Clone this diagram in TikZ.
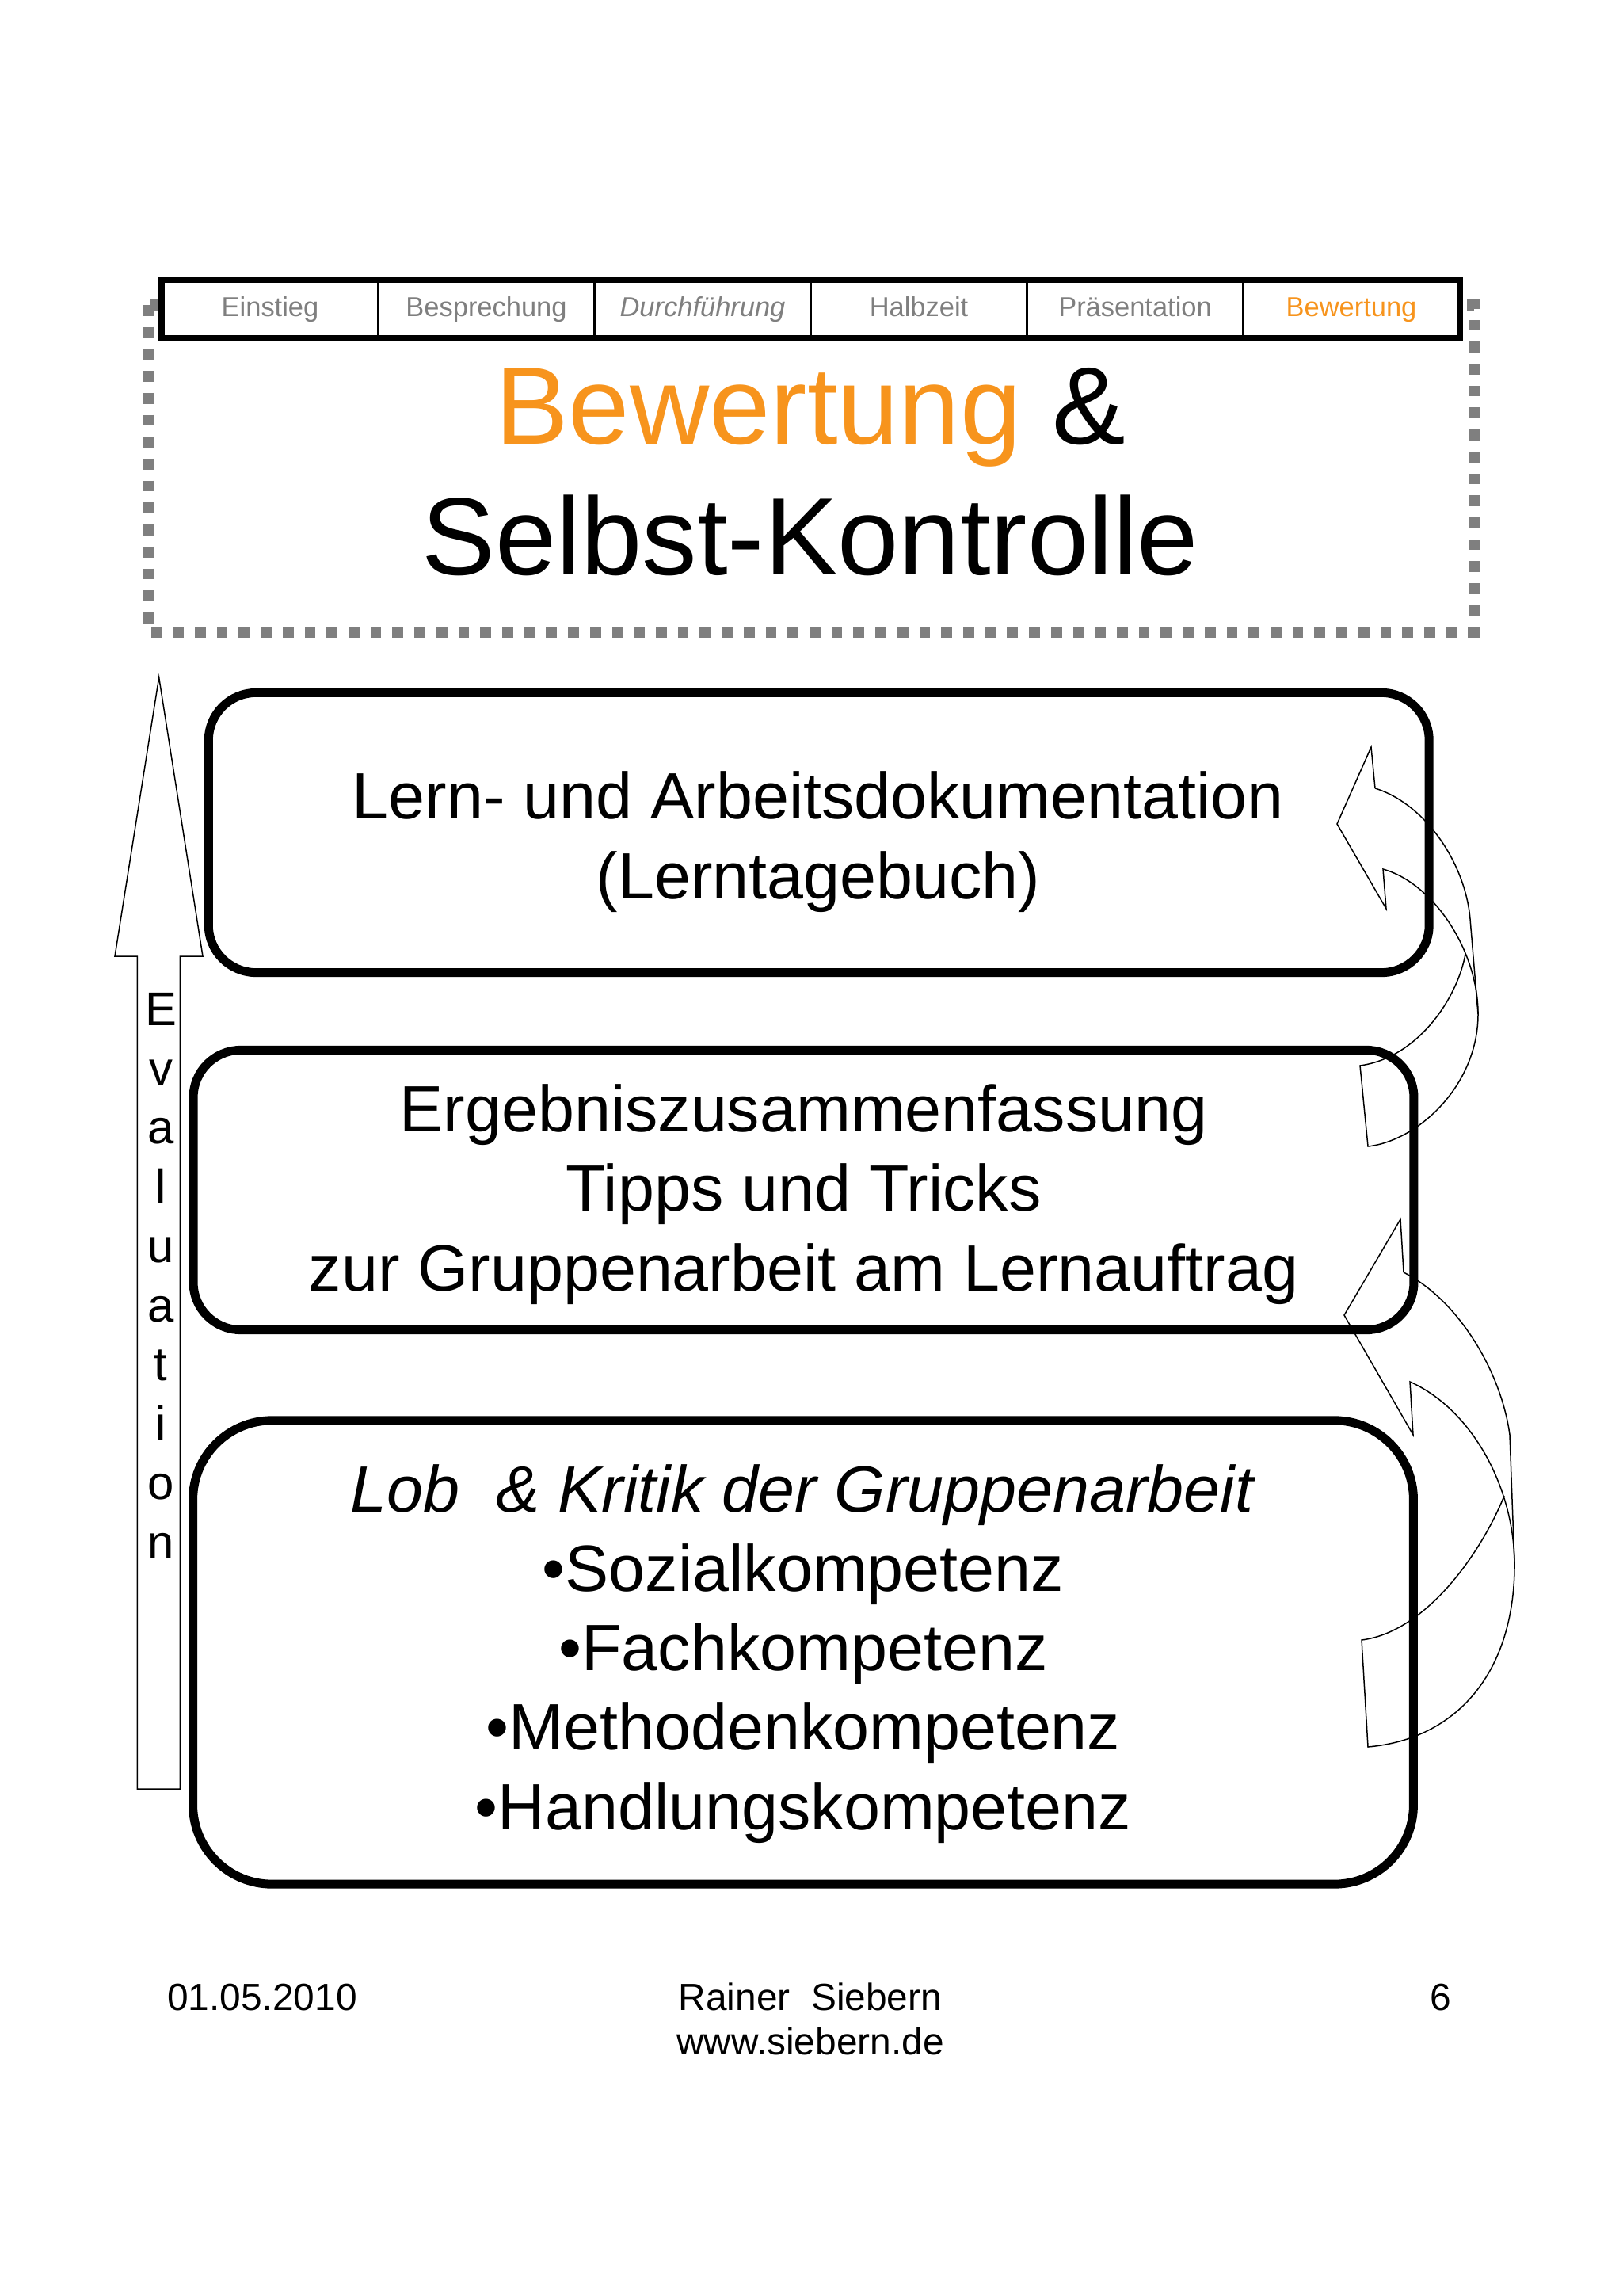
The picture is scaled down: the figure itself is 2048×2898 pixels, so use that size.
\documentclass[tikz,border=0pt]{standalone}
\usepackage{fontspec}
\setmainfont{Liberation Sans}
\usepackage{xcolor}
\usepackage{tikz}
\usetikzlibrary{positioning,calc}

\definecolor{tabgray}{HTML}{7F7F7F}
\definecolor{titleorange}{HTML}{F7941D}

\begin{document}
\begin{tikzpicture}[x=0.01cm, y=-0.01cm, thick]
  \tikzstyle{tab} = [rectangle, draw, line width=0.03cm, fill=white, outer sep=0pt, minimum width=2.73cm, minimum height=0.74cm, text height=7.2pt, text depth=2pt, text=tabgray, font=\fontsize{9.8}{12}\selectfont]
  \tikzstyle{stage} = [rectangle, draw, rounded corners=0.6cm, line width=0.11cm, minimum width=15.4cm, minimum height=3.53cm]
  \tikzstyle{stagetext} = [anchor=base, align=center, font=\fontsize{23.5}{28.5}\selectfont]
  \tikzstyle{blockarrow} = [draw, line width=0.015cm, line join=miter]
  \tikzstyle{footer} = [anchor=base, font=\fontsize{13.6}{15.9}\selectfont]

  \useasboundingbox[fill=white] (0,0) rectangle (2048,2898);

  % title frame
  \draw[tabgray, line width=0.137cm, dash pattern=on 0.137cm off 0.14cm] (187.5,385) rectangle (1861,797.7);

  \node[tab] (tab_einstieg) at (341,390) {Einstieg};
  \node[tab] (tab_besprechung) at (614,390) {Besprechung};
  \node[tab, font=\fontsize{9.8}{12}\selectfont\itshape] (tab_durchfuehrung) at (887,390) {Durchführung};
  \node[tab] (tab_halbzeit) at (1160,390) {Halbzeit};
  \node[tab] (tab_praesentation) at (1433,390) {Präsentation};
  \node[tab, text=titleorange] (tab_bewertung) at (1706,390) {Bewertung};
  \draw[line width=0.08cm] (tab_einstieg.north west) rectangle (tab_bewertung.south east);

  % base = last line
  \node[anchor=base, align=center, font=\fontsize{39.5}{47.2}\selectfont] (title) at (1023,726) {\textcolor{titleorange}{Bewertung} \&\\Selbst-Kontrolle};

  % stages
  \node[stage] (box_lern) at (1033.75,1051) {};
  \node[stage] (box_ergebnis) at (1014.5,1502) {};
  \node[stage, rounded corners=1cm, minimum height=5.85cm] (box_lob) at (1014,2085.5) {};

  \node[stagetext] (txt_lern) at (1033,1134) {Lern- und Arbeitsdokumentation\\(Lerntagebuch)};
  \node[stagetext] (txt_ergebnis) at (1014.5,1629) {Ergebniszusammenfassung\\Tipps und Tricks\\zur Gruppenarbeit am Lernauftrag};
  \node[stagetext] (txt_lob) at (1014,2309) {\textit{Lob\ \ \& Kritik der Gruppenarbeit}\\•Sozialkompetenz\\•Fachkompetenz\\•Methodenkompetenz\\•Handlungskompetenz};

  % curved arrows
  \draw[blockarrow] (1736,995) -- (1731,943) -- (1688,1040) -- (1750,1147) -- (1746,1097)
    .. controls (1810,1115) and (1866,1200) .. (1866,1280)
    .. controls (1866,1370) and (1790,1440) .. (1727,1447) -- (1717,1345)
    .. controls (1790,1335) and (1840,1260) .. (1850,1204);
  \draw[blockarrow] (1736,995) .. controls (1800,1015) and (1850,1090) .. (1856,1160) -- (1866,1280);

  \draw[blockarrow] (1772,1606) -- (1768,1539) -- (1697,1660) -- (1784,1811) -- (1780,1744)
    .. controls (1860,1780) and (1912,1880) .. (1912,1975)
    .. controls (1912,2110) and (1840,2195) .. (1727,2205) -- (1719,2070)
    .. controls (1800,2060) and (1870,1960) .. (1899,1888);
  \draw[blockarrow] (1772,1606) .. controls (1840,1640) and (1895,1730) .. (1906,1811) -- (1912,1975);

  % evaluation arrow
  \draw[blockarrow] (173.3,2258) -- (173.3,1207) -- (145,1207) -- (200.7,855) -- (256,1207) -- (227.3,1207) -- (227.3,2258) -- cycle;
  \node[anchor=base, align=center, font=\fontsize{17}{21.25}\selectfont] (evaluation) at (203,1967) {E\\v\\a\\l\\u\\a\\t\\i\\o\\n};

  % footer
  \node[footer] (date) at (331,2537) {01.05.2010};
  \node[footer, align=center] (author) at (1023,2593) {Rainer\ \ Siebern\\www.siebern.de};
  \node[footer] (page) at (1819,2537) {6};
\end{tikzpicture}
\end{document}
